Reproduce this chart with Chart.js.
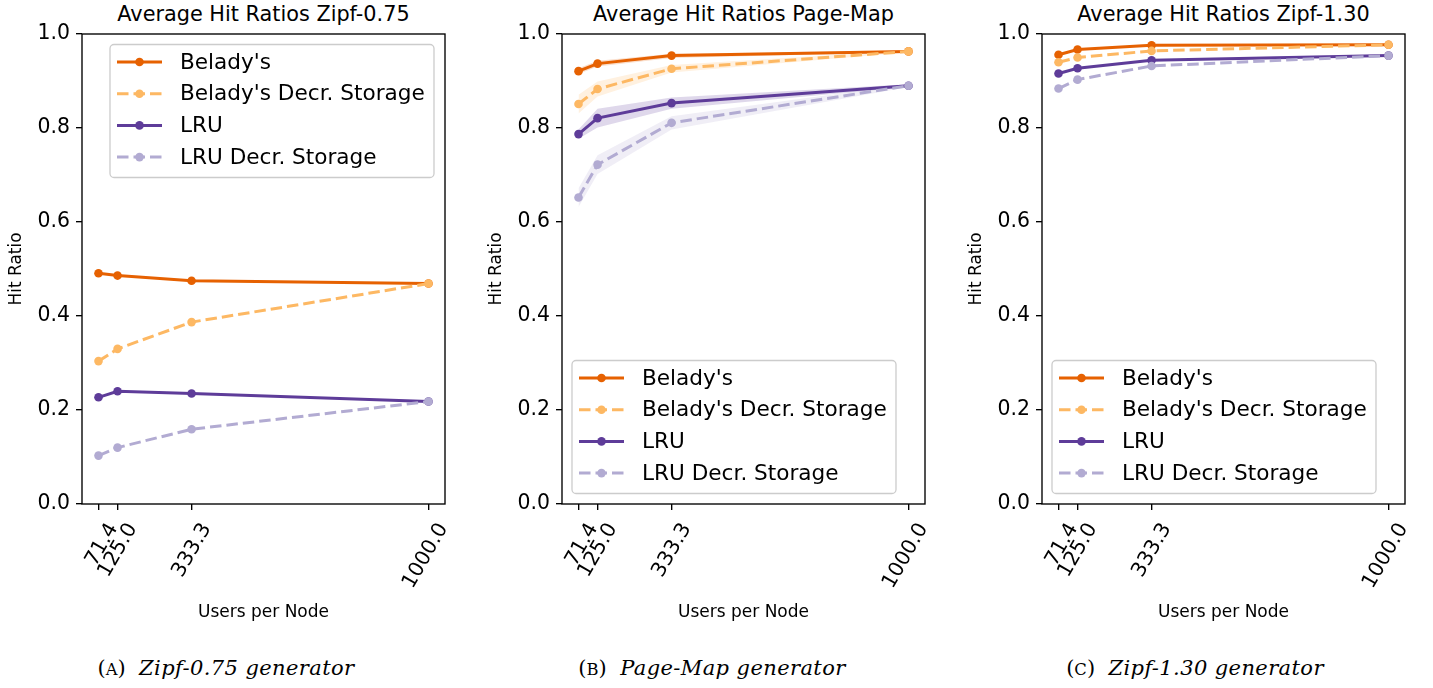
<!DOCTYPE html>
<html>
<head>
<meta charset="utf-8">
<script src="https://cdn.jsdelivr.net/npm/chart.js@4.4.1/dist/chart.umd.min.js"></script>
<style>
  body { margin: 0; background: #fff; width: 1433px; height: 688px; overflow: hidden; font-family: 'DejaVu Sans', sans-serif; }
  .panel { position: absolute; top: 0; width: 480px; height: 688px; }
  .panel canvas { position: absolute; left: 0; top: 0; }
  .title { position: absolute; left: 82px; width: 363px; top: 2px; text-align: center; font-size: 20.8px; line-height: 24px; color: #000; white-space: nowrap; }
  .caption { position: absolute; top: 655px; width: 400px; text-align: center; font-family: 'DejaVu Serif', serif; font-size: 21px; line-height: 26px; color: #000; white-space: nowrap; }
  .caption i { letter-spacing: 0.4px; }
  .sc { font-size: 0.78em; }
</style>
</head>
<body>

<div class="panel" style="left:0px">
  <div class="title">Average Hit Ratios Zipf-0.75</div>
  <canvas id="chartA" width="480" height="630"></canvas>
  <div class="caption" style="left:26px">(<span class="sc">A</span>)&nbsp; <i>Zipf-0.75 generator</i></div>
</div>
<div class="panel" style="left:480px">
  <div class="title">Average Hit Ratios Page-Map</div>
  <canvas id="chartB" width="480" height="630"></canvas>
  <div class="caption" style="left:32px">(<span class="sc">B</span>)&nbsp; <i>Page-Map generator</i></div>
</div>
<div class="panel" style="left:960px">
  <div class="title">Average Hit Ratios Zipf-1.30</div>
  <canvas id="chartC" width="480" height="630"></canvas>
  <div class="caption" style="left:35px">(<span class="sc">C</span>)&nbsp; <i>Zipf-1.30 generator</i></div>
</div>

<script>
const usersPerNode = [71.4, 125.0, 333.3, 1000.0]
const seriesNames = ["Belady's", "Belady's Decr. Storage", 'LRU', 'LRU Decr. Storage']
const seriesColors = ['#e66101', '#fdb863', '#5e3c99', '#b2abd2']
const seriesDashed = [false, true, false, true]

// Zipf-0.75
const zipf075Belady = [0.491, 0.486, 0.475, 0.469]
const zipf075BeladyDecr = [0.304, 0.330, 0.387, 0.469]
const zipf075Lru = [0.227, 0.240, 0.235, 0.218]
const zipf075LruDecr = [0.103, 0.120, 0.159, 0.218]

// Page-Map
const pageMapBelady = [0.921, 0.937, 0.954, 0.963]
const pageMapBeladyDecr = [0.851, 0.883, 0.926, 0.963]
const pageMapLru = [0.787, 0.821, 0.853, 0.890]
const pageMapLruDecr = [0.652, 0.722, 0.811, 0.890]

// Page-Map spread (lower / upper edge of the shaded band)
const pageMapBeladyLo = [0.915, 0.931, 0.949, 0.961]
const pageMapBeladyHi = [0.927, 0.943, 0.958, 0.965]
const pageMapBeladyDecrLo = [0.831, 0.867, 0.918, 0.961]
const pageMapBeladyDecrHi = [0.871, 0.899, 0.934, 0.965]
const pageMapLruLo = [0.777, 0.801, 0.841, 0.887]
const pageMapLruHi = [0.797, 0.841, 0.865, 0.893]
const pageMapLruDecrLo = [0.632, 0.702, 0.797, 0.887]
const pageMapLruDecrHi = [0.672, 0.742, 0.825, 0.893]

// Zipf-1.30
const zipf130Belady = [0.956, 0.967, 0.976, 0.977]
const zipf130BeladyDecr = [0.940, 0.950, 0.964, 0.977]
const zipf130Lru = [0.916, 0.927, 0.944, 0.954]
const zipf130LruDecr = [0.884, 0.903, 0.932, 0.954]

const FONT = "'DejaVu Sans', sans-serif"

function fade(hex, a) {
    const n = parseInt(hex.slice(1), 16)
    return `rgba(${(n >> 16) & 255}, ${(n >> 8) & 255}, ${n & 255}, ${a})`
}

function points(arr) {
    return usersPerNode.map((x, j) => ({ x: x, y: arr[j] }))
}

// axes frame + matplotlib style legend box
const mplDecor = {
    id: 'mplDecor',
    afterDraw(chart, args, opts) {
        const { ctx, chartArea: a } = chart
        ctx.save()
        ctx.strokeStyle = '#000'
        ctx.lineWidth = 1.36
        ctx.strokeRect(a.left, a.top, a.right - a.left, a.bottom - a.top)

        const W = 324, H = 133, rowH = 31.7
        const x0 = opts.pos === 'ur' ? a.right - 11 - W : a.left + 10
        const y0 = opts.pos === 'ur' ? a.top + 10.5 : a.bottom - 10.5 - H
        ctx.beginPath()
        ctx.roundRect(x0, y0, W, H, 4)
        ctx.fillStyle = 'rgba(255,255,255,0.8)'
        ctx.fill()
        ctx.strokeStyle = '#cccccc'
        ctx.lineWidth = 1.3
        ctx.stroke()

        ctx.font = `21.6px ${FONT}`
        ctx.textBaseline = 'middle'
        ctx.textAlign = 'left'
        seriesNames.forEach((name, i) => {
            const cy = y0 + 17.5 + i * rowH
            ctx.beginPath()
            ctx.setLineDash(seriesDashed[i] ? [11.5, 5] : [])
            ctx.strokeStyle = seriesColors[i]
            ctx.lineWidth = 3
            ctx.moveTo(x0 + 7, cy)
            ctx.lineTo(x0 + 52, cy)
            ctx.stroke()
            ctx.setLineDash([])
            ctx.beginPath()
            ctx.fillStyle = seriesColors[i]
            ctx.arc(x0 + 29.5, cy, 4.3, 0, Math.PI * 2)
            ctx.fill()
            ctx.fillStyle = '#000'
            ctx.fillText(name, x0 + 70, cy + 1)
        })
        ctx.restore()
    }
}

function buildChart(canvasId, series, bands, legendPos) {
    const datasets = []

    if (bands) {
        bands.forEach((b, i) => {
            datasets.push({ data: points(b[0]), borderWidth: 0, pointRadius: 0, fill: false, order: 10 })
            datasets.push({ data: points(b[1]), borderWidth: 0, pointRadius: 0, fill: '-1', backgroundColor: fade(seriesColors[i], 0.2), order: 10 })
        })
    }

    series.forEach((arr, i) => {
        datasets.push({
            label: seriesNames[i],
            data: points(arr),
            borderColor: seriesColors[i],
            backgroundColor: seriesColors[i],
            borderWidth: 3,
            borderDash: seriesDashed[i] ? [11.5, 5] : [],
            pointRadius: 4.3,
            pointBorderWidth: 0,
            pointBackgroundColor: seriesColors[i],
            fill: false,
            tension: 0,
            order: 4 - i
        })
    })

    const ctx = document.getElementById(canvasId).getContext('2d')
    return new Chart(ctx, {
        type: 'line',
        data: { datasets: datasets },
        options: {
            responsive: false,
            animation: false,
            layout: { padding: { top: 34, right: 35, left: 0, bottom: 0 } },
            scales: {
                x: {
                    type: 'linear',
                    min: 24.97,
                    max: 1046.43,
                    afterBuildTicks: s => { s.ticks = usersPerNode.map(v => ({ value: v })) },
                    afterFit: s => { s.height = 126 },
                    ticks: {
                        autoSkip: false,
                        minRotation: 60,
                        maxRotation: 60,
                        padding: 9,
                        labelOffset: 15,
                        color: '#000',
                        font: { family: FONT, size: 20.4 },
                        callback: v => Number(v).toFixed(1)
                    },
                    grid: { drawOnChartArea: false, tickLength: 6, color: '#000', lineWidth: 1.36 },
                    border: { display: false },
                    title: { display: true, text: 'Users per Node', color: '#000', font: { family: FONT, size: 17 }, padding: { top: 0, bottom: 7 } }
                },
                y: {
                    min: 0,
                    max: 1,
                    afterFit: s => { s.width = 82 },
                    ticks: {
                        stepSize: 0.2,
                        padding: 6,
                        color: '#000',
                        font: { family: FONT, size: 20.4 },
                        callback: v => Number(v).toFixed(1)
                    },
                    grid: { drawOnChartArea: false, tickLength: 6, color: '#000', lineWidth: 1.36 },
                    border: { display: false },
                    title: { display: true, text: 'Hit Ratio', color: '#000', font: { family: FONT, size: 17 }, padding: { top: 6 } }
                }
            },
            plugins: {
                legend: { display: false },
                tooltip: { enabled: false },
                mplDecor: { pos: legendPos }
            }
        },
        plugins: [mplDecor]
    })
}

buildChart('chartA', [zipf075Belady, zipf075BeladyDecr, zipf075Lru, zipf075LruDecr], null, 'ur')
buildChart('chartB', [pageMapBelady, pageMapBeladyDecr, pageMapLru, pageMapLruDecr], [
    [pageMapBeladyLo, pageMapBeladyHi],
    [pageMapBeladyDecrLo, pageMapBeladyDecrHi],
    [pageMapLruLo, pageMapLruHi],
    [pageMapLruDecrLo, pageMapLruDecrHi]
], 'll')
buildChart('chartC', [zipf130Belady, zipf130BeladyDecr, zipf130Lru, zipf130LruDecr], null, 'll')
</script>
</body>
</html>
